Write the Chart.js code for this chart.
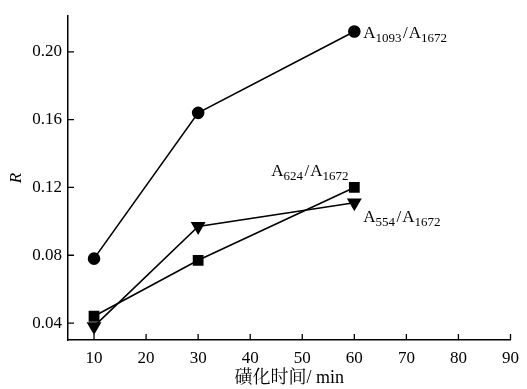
<!DOCTYPE html>
<html>
<head>
<meta charset="utf-8">
<script src="https://cdn.jsdelivr.net/npm/chart.js@4"></script>
<style>
  html, body { margin: 0; padding: 0; background: #fff; }
  #wrap { width: 527px; height: 389px; }
</style>
</head>
<body>
<div id="wrap"><canvas id="lineChart"></canvas></div>
<script>
const times = [10, 30, 60];
const r1093 = [0.078, 0.164, 0.212];
const r624 = [0.044, 0.077, 0.120];
const r554 = [0.038, 0.097, 0.111];
const xTicks = [10, 20, 30, 40, 50, 60, 70, 80, 90];
const yTicks = [0.04, 0.08, 0.12, 0.16, 0.20];
const labels = [
  { main: '1093', sub: '1672', dx: 9, dy: 7 },
  { main: '624', sub: '1672', dx: -83, dy: -11 },
  { main: '554', sub: '1672', dx: 9, dy: 19 }
];

const serif = '"Liberation Serif", "Times New Roman", serif';

function pts(ys) {
  return times.map((t, i) => ({ x: t, y: ys[i] }));
}

// inward ticks + ratio labels
const extras = {
  id: 'extras',
  afterDraw(chart) {
    const ctx = chart.ctx;
    const xs = chart.scales.x, ys = chart.scales.y;
    ctx.save();
    ctx.strokeStyle = '#000';
    ctx.lineWidth = 1.3;
    ctx.beginPath();
    xTicks.forEach(v => {
      const px = xs.getPixelForValue(v);
      ctx.moveTo(px, ys.bottom);
      ctx.lineTo(px, ys.bottom - 6);
    });
    yTicks.forEach(v => {
      const py = ys.getPixelForValue(v);
      ctx.moveTo(xs.left, py);
      ctx.lineTo(xs.left + 6, py);
    });
    ctx.stroke();

    ctx.fillStyle = '#000';
    ctx.textBaseline = 'alphabetic';
    chart.data.datasets.forEach((ds, i) => {
      const last = ds.data[ds.data.length - 1];
      const lb = labels[i];
      let x = xs.getPixelForValue(last.x) + lb.dx;
      const y = ys.getPixelForValue(last.y) + lb.dy;
      const parts = [['A', 0, 17, 0], [lb.main, 4, 13, 1.5], ['/', 0, 17, 1], ['A', 0, 17, 0], [lb.sub, 4, 13, 0]];
      parts.forEach(p => {
        ctx.font = p[2] + 'px ' + serif;
        ctx.fillText(p[0], x, y + p[1]);
        x += ctx.measureText(p[0]).width + p[3];
      });
    });
    ctx.restore();
  }
};

const common = {
  borderColor: '#000',
  backgroundColor: '#000',
  borderWidth: 1.6,
  pointBorderColor: '#000',
  pointBackgroundColor: '#000',
  tension: 0
};

new Chart(document.getElementById('lineChart'), {
  type: 'line',
  data: {
    datasets: [
      Object.assign({ label: 'A1093/A1672', data: pts(r1093), pointStyle: 'circle', pointRadius: 5.5 }, common),
      Object.assign({ label: 'A624/A1672', data: pts(r624), pointStyle: 'rect', pointRadius: 6.5 }, common),
      Object.assign({ label: 'A554/A1672', data: pts(r554), pointStyle: 'triangle', rotation: 180, pointRadius: 7 }, common)
    ]
  },
  options: {
    responsive: true,
    maintainAspectRatio: false,
    animation: false,
    layout: { padding: { top: 12, right: 13, left: 0, bottom: 0 } },
    plugins: { legend: { display: false }, tooltip: { enabled: false } },
    scales: {
      x: {
        type: 'linear',
        min: 5,
        max: 90,
        afterBuildTicks: s => { s.ticks = xTicks.map(v => ({ value: v })); },
        afterFit: s => { s.height = 49; },
        grid: { display: true, drawOnChartArea: false, drawTicks: false },
        border: { color: '#000', width: 1.5 },
        ticks: { color: '#000', padding: 8, font: { family: serif, size: 17 } },
        title: {
          display: true,
          text: '磺化时间/ min',
          color: '#000',
          padding: { top: 3, bottom: 0 },
          font: { family: '"Liberation Serif", "Noto Serif CJK SC", "Noto Sans CJK SC", serif', size: 18 }
        }
      },
      y: {
        type: 'linear',
        min: 0.03,
        max: 0.221,
        afterBuildTicks: s => { s.ticks = yTicks.map(v => ({ value: v })); },
        afterFit: s => { s.width = 68; },
        grid: { display: true, drawOnChartArea: false, drawTicks: false },
        border: { color: '#000', width: 1.5 },
        ticks: {
          color: '#000',
          padding: 6,
          font: { family: serif, size: 17 },
          callback: v => v.toFixed(2)
        },
        title: {
          display: true,
          text: 'R',
          color: '#000',
          padding: { top: 6, bottom: 0 },
          font: { family: serif, size: 17, style: 'italic' }
        }
      }
    }
  },
  plugins: [extras]
});
</script>
</body>
</html>
